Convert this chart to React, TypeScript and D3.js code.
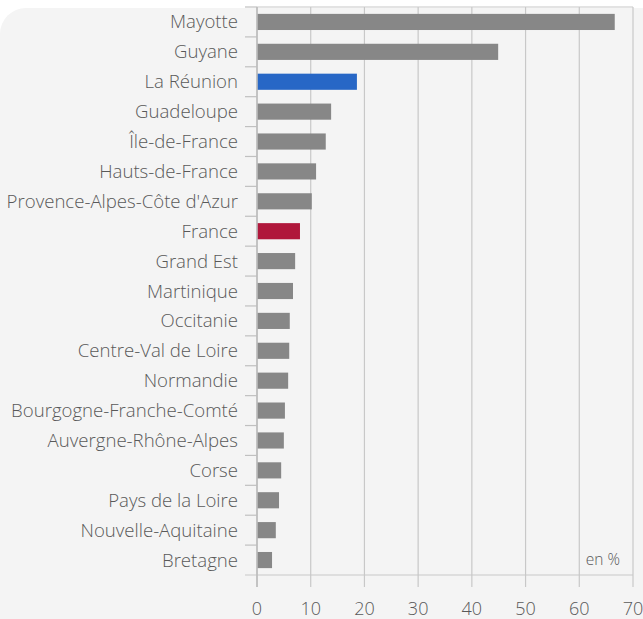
import React from "react";
import * as d3 from "d3";

const categories = [
  "Mayotte", "Guyane", "La Réunion", "Guadeloupe", "Île-de-France", "Hauts-de-France",
  "Provence-Alpes-Côte d'Azur", "France", "Grand Est", "Martinique", "Occitanie",
  "Centre-Val de Loire", "Normandie", "Bourgogne-Franche-Comté", "Auvergne-Rhône-Alpes",
  "Corse", "Pays de la Loire", "Nouvelle-Aquitaine", "Bretagne",
];
const values = [66.6, 44.9, 18.6, 13.8, 12.8, 11.0, 10.2, 8.0, 7.1, 6.7, 6.1, 6.0, 5.8, 5.2, 5.0, 4.5, 4.1, 3.5, 2.8];
const xTicks = [0, 10, 20, 30, 40, 50, 60, 70];
const highlight: Record<string, string> = { "La Réunion": "#2767c6", France: "#b0173b" };
const unitLabel = "en %";

const W = 643, H = 619;
const left = 257, right = 633, top = 7, bottom = 575;
const font = "'Open Sans', sans-serif";

export default function App() {
  const x = d3.scaleLinear().domain([0, 70]).range([left, right]);
  const y = d3.scaleBand<string>().domain(categories).range([top, bottom]).paddingInner(0.46).paddingOuter(0.23);
  const bandEdges = categories.map((_, i) => top + (bottom - top) * (i / categories.length));
  return (
    <svg width={W} height={H} style={{ position: "absolute", left: 0, top: 0 }}>
      <rect x={0} y={8} width={W + 30} height={H + 30} rx={26} fill="#f4f4f4" />
      {xTicks.map((t) => (
        <line key={t} x1={x(t)} x2={x(t)} y1={top} y2={bottom + 12} stroke="#c8c8c8" strokeWidth={1.2} />
      ))}
      <line x1={left} x2={right} y1={top} y2={top} stroke="#c8c8c8" strokeWidth={1.2} />
      <line x1={left - 12} x2={right} y1={bottom} y2={bottom} stroke="#c8c8c8" strokeWidth={1.2} />
      {bandEdges.map((e, i) => (
        <line key={i} x1={left - 12} x2={left} y1={e} y2={e} stroke="#c0c0c0" strokeWidth={1.2} />
      ))}
      {categories.map((c, i) => (
        <rect key={c} x={x(0)} y={y(c)!} width={x(values[i]) - x(0)} height={y.bandwidth()} fill={highlight[c] || "#878787"} />
      ))}
      <line x1={left} x2={left} y1={top} y2={bottom + 12} stroke="#bdbdbd" strokeWidth={1.6} />
      {categories.map((c) => (
        <text key={c} x={238} y={y(c)! + y.bandwidth() / 2} dy="0.35em" textAnchor="end" fontFamily={font} fontWeight={300} fontSize={18.6} fill="#595959">
          {c}
        </text>
      ))}
      {xTicks.map((t) => (
        <text key={t} x={x(t)} y={609} dy="0.35em" textAnchor="middle" fontFamily={font} fontWeight={300} fontSize={18} fill="#595959">
          {t}
        </text>
      ))}
      <text x={620} y={560} dy="0.35em" textAnchor="end" fontFamily={font} fontWeight={300} fontSize={15.5} fill="#595959">
        {unitLabel}
      </text>
    </svg>
  );
}
